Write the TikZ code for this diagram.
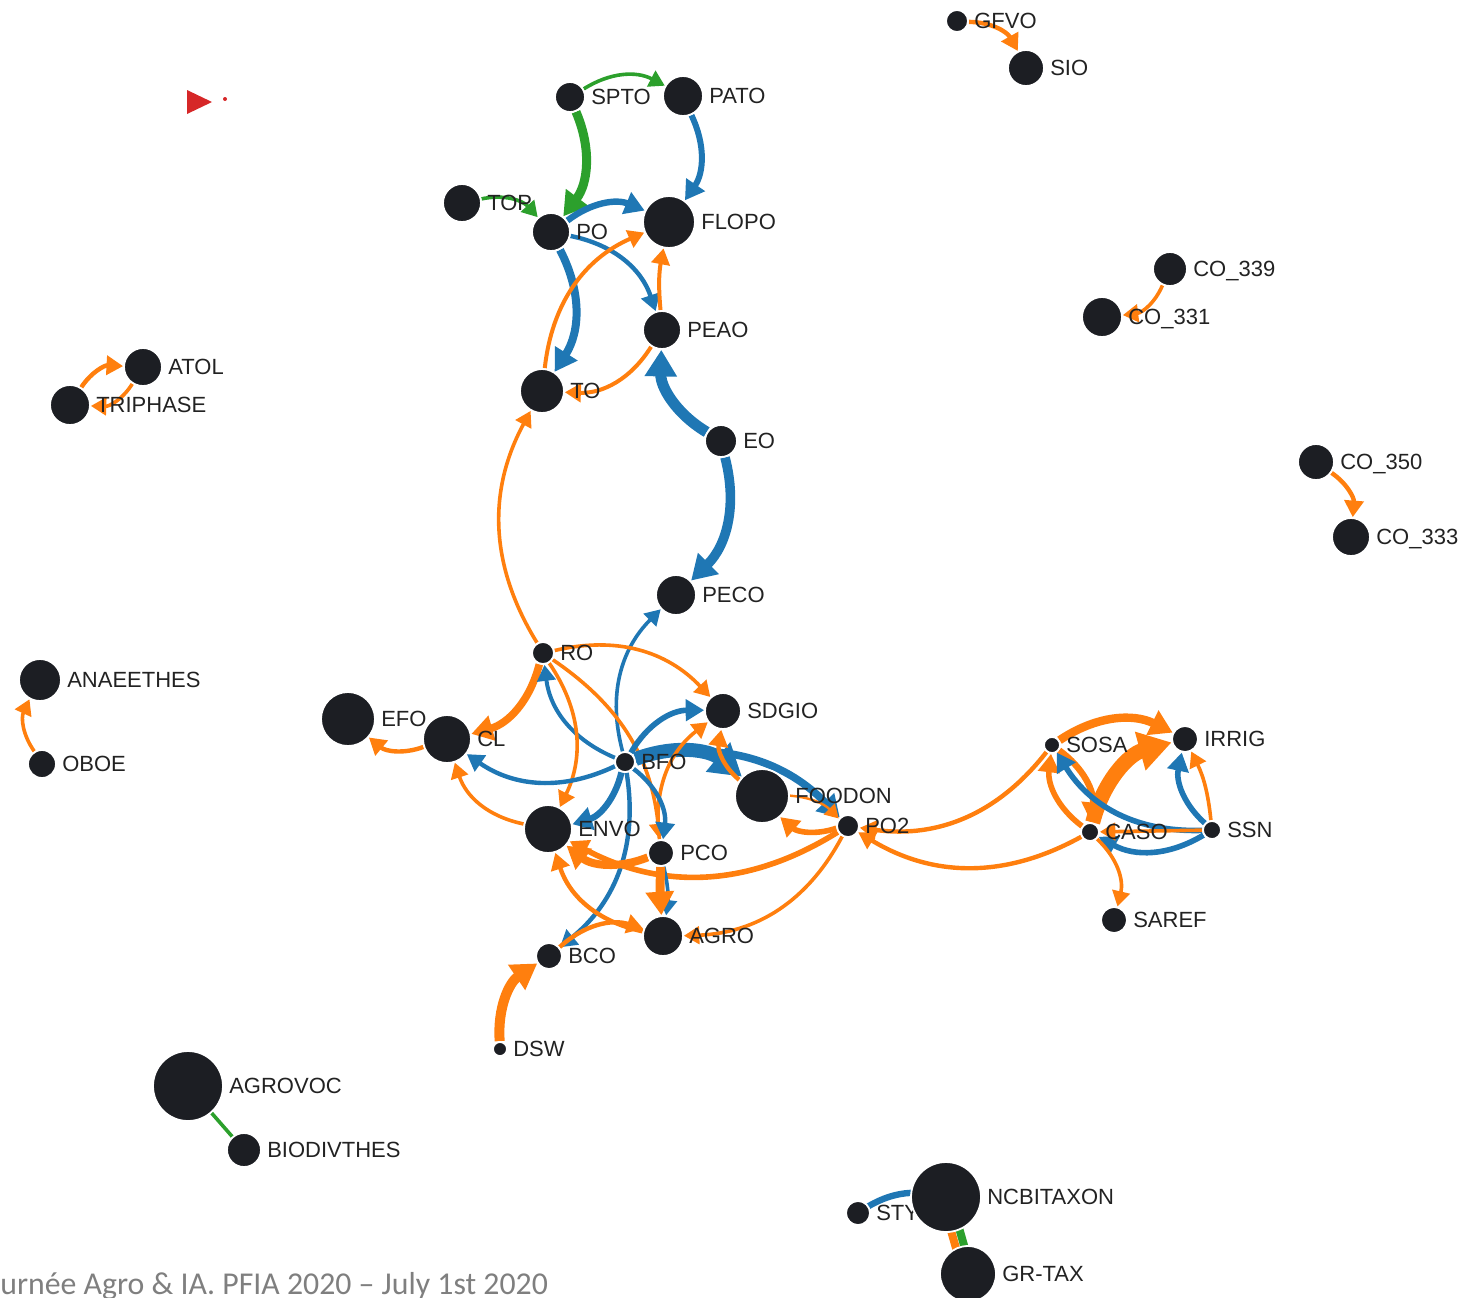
\documentclass[tikz,border=0pt]{standalone}
\usepackage{fontspec}
\setmainfont{Liberation Sans}
\newfontfamily\footfont{Carlito}
\usetikzlibrary{arrows.meta}
\pgfdeclarelayer{bg}
\pgfsetlayers{bg,main}
\definecolor{ndfill}{HTML}{1C1E23}
\definecolor{eorange}{HTML}{FF7F0E}
\definecolor{eblue}{HTML}{1F77B4}
\definecolor{egreen}{HTML}{2CA02C}
\definecolor{labtxt}{HTML}{222222}
\definecolor{foottxt}{HTML}{7F7F7F}
\definecolor{redmark}{HTML}{D62728}
\tikzset{
  nd/.style={circle, fill=ndfill, draw=white, line width=0.9pt, inner sep=0pt, minimum size=#1},
  lab/.style={font=\fontsize{11}{13}\selectfont, text=labtxt, inner sep=0pt, text height=7.9pt, text depth=0pt},
  tipA/.style={-{Triangle[length=5pt 1.5, width=5.5pt 1.8]}},
  eO/.style={draw=eorange, tipA},
  eB/.style={draw=eblue, tipA},
  eG/.style={draw=egreen, tipA},
}
\begin{document}
\begin{tikzpicture}[x=0.5pt,y=0.5pt,label distance=2.5pt]
\useasboundingbox (0,0) rectangle (1460,-1297);
% ---------- nodes ----------
\node[nd=11pt, label={[lab]0:GFVO}] (GFVO) at (957,-21) {};
\node[nd=18pt, label={[lab]0:SIO}] (SIO) at (1026,-68) {};
\node[nd=15pt, label={[lab]0:SPTO}] (SPTO) at (570,-97) {};
\node[nd=20pt, label={[lab]0:PATO}] (PATO) at (683,-96) {};
\node[nd=19pt, label={[lab]0:TOP}] (TOP) at (462,-203) {};
\node[nd=19pt, label={[lab]0:PO}] (PO) at (551,-232) {};
\node[nd=26pt, label={[lab]0:FLOPO}] (FLOPO) at (669,-222) {};
\node[nd=19pt, label={[lab]0:PEAO}] (PEAO) at (662,-330) {};
\node[nd=22pt, label={[lab]0:TO}] (TO) at (542,-391) {};
\node[nd=16pt, label={[lab]0:EO}] (EO) at (721,-441) {};
\node[nd=20pt, label={[lab]0:PECO}] (PECO) at (676,-595) {};
\node[nd=17pt, label={[lab]0:CO\_339}] (CO339) at (1170,-269) {};
\node[nd=20pt, label={[lab]0:CO\_331}] (CO331) at (1102,-317) {};
\node[nd=18pt, label={[lab]0:CO\_350}] (CO350) at (1316,-462) {};
\node[nd=19pt, label={[lab]0:CO\_333}] (CO333) at (1351,-537) {};
\node[nd=19pt, label={[lab]0:ATOL}] (ATOL) at (143,-367) {};
\node[nd=20pt, label={[lab]0:TRIPHASE}] (TRIPHASE) at (70,-405) {};
\node[nd=21pt, label={[lab]0:ANAEETHES}] (ANAEETHES) at (40,-680) {};
\node[nd=14pt, label={[lab]0:OBOE}] (OBOE) at (42,-764) {};
\node[nd=11pt, label={[lab]0:RO}] (RO) at (543,-653) {};
\node[nd=27pt, label={[lab]0:EFO}] (EFO) at (348,-719) {};
\node[nd=24pt, label={[lab]0:CL}] (CL) at (447,-739) {};
\node[nd=18pt, label={[lab]0:SDGIO}] (SDGIO) at (723,-711) {};
\node[nd=10pt, label={[lab]0:BFO}] (BFO) at (625,-762) {};
\node[nd=27pt, label={[lab]0:FOODON}] (FOODON) at (762,-796) {};
\node[nd=11pt, label={[lab]0:PO2}] (PO2) at (848,-826) {};
\node[nd=24pt, label={[lab]0:ENVO}] (ENVO) at (548,-829) {};
\node[nd=13pt, label={[lab]0:PCO}] (PCO) at (661,-853) {};
\node[nd=20pt, label={[lab]0:AGRO}] (AGRO) at (663,-936) {};
\node[nd=13pt, label={[lab]0:BCO}] (BCO) at (549,-956) {};
\node[nd=7pt, label={[lab]0:DSW}] (DSW) at (500,-1049) {};
\node[nd=8pt, label={[lab]0:SOSA}] (SOSA) at (1052,-745) {};
\node[nd=13pt, label={[lab]0:IRRIG}] (IRRIG) at (1185,-739) {};
\node[nd=9pt, label={[lab]0:CASO}] (CASO) at (1090,-832) {};
\node[nd=9pt, label={[lab]0:SSN}] (SSN) at (1212,-830) {};
\node[nd=13pt, label={[lab]0:SAREF}] (SAREF) at (1114,-920) {};
\node[nd=35pt, label={[lab]0:AGROVOC}] (AGROVOC) at (188,-1086) {};
\node[nd=17pt, label={[lab]0:BIODIVTHES}] (BIODIVTHES) at (244,-1150) {};
\node[nd=12pt, label={[lab]0:STY}] (STY) at (858,-1213) {};
\node[nd=35pt, label={[lab]0:NCBITAXON}] (NCBITAXON) at (946,-1197) {};
\node[nd=28pt, label={[lab]0:GR-TAX}] (GRTAX) at (968,-1274) {};
% red marker
\fill[redmark] (187,-90) -- (187,-114) -- (212,-102) -- cycle;
\fill[redmark] (225,-99) circle (1pt);
% footer
\node[anchor=base west, inner sep=0pt, text=foottxt, font=\footfont\fontsize{15.9}{18}\selectfont] (footer) at (0,-1294) {urnée Agro \& IA. PFIA 2020 – July 1st 2020};
% ---------- edges ----------
\begin{pgfonlayer}{bg}
% top cluster
\draw[eG,line width=1.8pt] (SPTO) to[bend left=30] (PATO);
\draw[eG,line width=4.5pt] (SPTO) to[bend left=30] (PO);
\draw[eG,line width=1.8pt] (TOP) to[bend left=30] (PO);
\draw[eB,line width=3pt] (PATO) to[bend left=30] (FLOPO);
\draw[eB,line width=3.2pt] (PO) to[bend left=30] (FLOPO);
\draw[eB,line width=2.2pt] (PO) to[bend left=30] (PEAO);
\draw[eB,line width=4pt] (PO) to[bend left=30] (TO);
\draw[eO,line width=2pt] (TO) to[bend left=30] (FLOPO);
\draw[eO,line width=2pt] (PEAO) to[bend left=8] (FLOPO);
\draw[eO,line width=2pt] (PEAO) to[bend left=30] (TO);
\draw[eB,line width=5.5pt] (EO) to[bend left=30] (PEAO);
\draw[eB,line width=4.8pt] (EO) to[bend left=30] (PECO);
\draw[eO,line width=1.8pt] (RO) to[bend left=30] (TO);
% centre
\draw[eB,line width=1.8pt] (BFO) to[bend left=30] (PECO);
\draw[eO,line width=1.8pt] (RO) to[bend left=30] (SDGIO);
\draw[eO,line width=3.8pt] (RO) to[bend left=30] (CL);
\draw[eB,line width=2pt] (BFO) to[bend left=30] (RO);
\draw[eO,line width=1.8pt] (RO) to[bend left=30] (ENVO);
\draw[eO,line width=1.8pt] (RO) to[bend left=25] (PCO);
\draw[eB,line width=2.2pt] (BFO) to[bend left=30] (CL);
\draw[eO,line width=2.2pt] (CL) to[bend left=30] (EFO);
\draw[eO,line width=1.8pt] (ENVO) to[bend left=30] (CL);
\draw[eB,line width=2.8pt] (BFO) to[bend left=30] (SDGIO);
\draw[eB,line width=7pt] (BFO) to[bend left=30] (FOODON);
\draw[eB,line width=3.8pt] (BFO) to[bend left=30] (PO2);
\draw[eO,line width=2.8pt] (PO2) to[bend left=30] (FOODON);
\draw[eO,line width=1.2pt] (FOODON) to[bend left=20] (PO2);
\draw[eO,line width=2.2pt] (FOODON) to[bend left=30] (SDGIO);
\draw[eO,line width=1.8pt] (PCO) to[bend left=30] (SDGIO);
\draw[eB,line width=2.2pt] (BFO) to[bend left=30] (PCO);
\draw[eB,line width=3.2pt] (BFO) to[bend left=30] (ENVO);
\draw[eB,line width=2.2pt] (BFO) to[bend left=30] (BCO);
\draw[eO,line width=4pt] (PCO) to[bend left=30] (ENVO);
\draw[eO,line width=2.8pt] (PO2) to[bend left=30] (ENVO);
\draw[eB,line width=1.8pt] (PCO) to[bend left=10] (AGRO);
\draw[eO,line width=4.5pt] (PCO) to[bend right=3] (AGRO);
\draw[eO,line width=1.8pt] (PO2) to[bend left=30] (AGRO);
\draw[eO,line width=2.2pt] (AGRO) to[bend left=30] (ENVO);
\draw[eO,line width=2.2pt] (BCO) to[bend left=30] (AGRO);
\draw[eO,line width=5pt] (DSW) to[bend left=30] (BCO);
% right cluster
\draw[eO,line width=2.2pt] (SOSA) to[bend left=30] (PO2);
\draw[eO,line width=2.2pt] (CASO) to[bend left=30] (PO2);
\draw[eO,line width=4.2pt] (SOSA) to[bend left=30] (IRRIG);
\draw[eO,line width=7.5pt] (CASO) to[bend left=30] (IRRIG);
\draw[eO,line width=2.8pt] (CASO) to[bend left=30] (SOSA);
\draw[eO,line width=3.2pt] (SOSA) to[bend left=30] (CASO);
\draw[eB,line width=2.8pt] (SSN) to[bend left=30] (SOSA);
\draw[eB,line width=2.8pt] (SSN) to[bend left=30] (CASO);
\draw[eB,line width=2.8pt] (SSN) to[bend left=30] (IRRIG);
\draw[eO,line width=1.8pt] (SSN) to[bend right=10] (IRRIG);
\draw[eO,line width=1.8pt] (SSN) -- (CASO);
\draw[eO,line width=1.8pt] (CASO) to[bend left=30] (SAREF);
% small components
\draw[eO,line width=2.2pt] (GFVO) to[bend left=30] (SIO);
\draw[eO,line width=1.8pt] (CO339) to[bend left=30] (CO331);
\draw[eO,line width=2.2pt] (CO350) to[bend left=30] (CO333);
\draw[eO,line width=2.2pt] (TRIPHASE) to[bend left=30] (ATOL);
\draw[eO,line width=1.8pt] (ATOL) to[bend left=30] (TRIPHASE);
\draw[eO,line width=1.8pt] (OBOE) to[bend left=30] (ANAEETHES);
\draw[draw=egreen,line width=1.8pt] (AGROVOC.center) -- (BIODIVTHES.center);
\draw[draw=eblue,line width=3.2pt] (STY.center) to[bend left=25] (NCBITAXON.center);
\draw[draw=eorange,line width=4pt] ([xshift=-2.3pt]NCBITAXON.center) -- ([xshift=-2.3pt]GRTAX.center);
\draw[draw=egreen,line width=4pt] ([xshift=2.1pt]NCBITAXON.center) -- ([xshift=2.1pt]GRTAX.center);
\end{pgfonlayer}
\end{tikzpicture}
\end{document}
